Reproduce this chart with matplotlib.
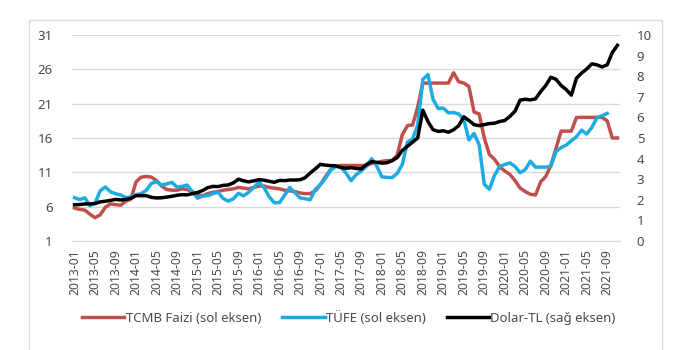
import numpy as np
import matplotlib.pyplot as plt
from matplotlib.patches import Rectangle

plt.rcParams['font.family'] = ['Noto Sans', 'DejaVu Sans']

# aylar: 2013-01 .. 2021-11
months = [f"{y}-{m:02d}" for y in range(2013, 2022) for m in range(1, 13)][:107]

tcmb_faizi = [
    5.8, 5.6, 5.5, 4.9, 4.4, 4.8, 5.9, 6.4, 6.3, 6.2, 6.8, 7.1,        # 2013
    9.6, 10.3, 10.4, 10.3, 9.8, 9.0, 8.5, 8.4, 8.4, 8.6, 8.5, 8.2,     # 2014
    7.7, 7.6, 7.9, 8.1, 8.2, 8.4, 8.5, 8.6, 8.8, 8.7, 8.6, 8.8,        # 2015
    9.0, 9.0, 8.8, 8.7, 8.6, 8.4, 8.3, 8.2, 8.0, 7.9, 7.9, 8.3,        # 2016
    9.2, 10.4, 11.4, 11.9, 12.0, 12.0, 12.0, 12.0, 12.0, 12.0, 12.3, 12.4,  # 2017
    12.6, 12.7, 12.7, 13.5, 16.5, 17.8, 17.9, 20.5, 24.0, 24.0, 24.0, 24.0,  # 2018
    24.0, 24.0, 25.5, 24.2, 24.0, 23.5, 19.8, 19.5, 16.0, 13.6, 12.9, 11.8,  # 2019
    11.2, 10.7, 9.8, 8.7, 8.2, 7.8, 7.7, 9.6, 10.4, 12.0, 14.5, 17.0,  # 2020
    17.0, 17.0, 19.0, 19.0, 19.0, 19.0, 19.0, 19.0, 18.5, 16.0, 16.0,  # 2021
]

tufe = [
    7.31, 7.03, 7.29, 6.13, 6.51, 8.30, 8.88, 8.17, 7.88, 7.71, 7.32, 7.40,
    7.75, 7.89, 8.39, 9.38, 9.66, 9.16, 9.32, 9.54, 8.86, 8.96, 9.15, 8.17,
    7.24, 7.55, 7.61, 7.91, 8.09, 7.20, 6.81, 7.14, 7.95, 7.58, 8.10, 8.81,
    9.58, 8.78, 7.46, 6.57, 6.58, 7.64, 8.79, 8.05, 7.28, 7.16, 7.00, 8.53,
    9.22, 10.13, 11.29, 11.87, 11.72, 10.90, 9.79, 10.68, 11.20, 11.90, 12.98, 11.92,
    10.35, 10.26, 10.23, 10.85, 12.15, 15.39, 15.85, 17.90, 24.52, 25.24, 21.62, 20.30,
    20.35, 19.67, 19.71, 19.50, 18.71, 15.72, 16.65, 15.01, 9.26, 8.55, 10.56, 11.84,
    12.15, 12.37, 11.86, 10.94, 11.39, 12.62, 11.76, 11.77, 11.75, 11.89, 14.03, 14.60,
    14.97, 15.61, 16.19, 17.14, 16.59, 17.53, 18.95, 19.25, 19.58,
]

dolar_tl = [
    1.76, 1.77, 1.80, 1.80, 1.82, 1.90, 1.93, 1.97, 2.02, 1.99, 2.02, 2.07,
    2.20, 2.20, 2.20, 2.12, 2.09, 2.10, 2.13, 2.17, 2.22, 2.25, 2.24, 2.30,
    2.35, 2.45, 2.59, 2.65, 2.64, 2.70, 2.72, 2.82, 3.00, 2.92, 2.87, 2.92,
    2.98, 2.95, 2.90, 2.85, 2.94, 2.93, 2.96, 2.96, 2.97, 3.07, 3.30, 3.50,
    3.72, 3.68, 3.66, 3.65, 3.57, 3.53, 3.56, 3.52, 3.50, 3.71, 3.85, 3.82,
    3.78, 3.80, 3.90, 4.05, 4.40, 4.60, 4.80, 5.00, 6.35, 5.80, 5.40, 5.32,
    5.35, 5.28, 5.40, 5.60, 6.03, 5.85, 5.65, 5.60, 5.65, 5.70, 5.72, 5.80,
    5.85, 6.05, 6.30, 6.84, 6.88, 6.85, 6.90, 7.25, 7.55, 7.95, 7.85, 7.55,
    7.35, 7.08, 7.90, 8.15, 8.35, 8.60, 8.55, 8.45, 8.55, 9.15, 9.50,
]

gray = '#4a4a4a'
fig = plt.figure(figsize=(6.9, 3.5), dpi=100)
fig.patches.append(Rectangle((29/690, -0.1), (662-29)/690, 1.1 - 20/350,
                             transform=fig.transFigure, fill=False,
                             edgecolor='#d9d9d9', linewidth=1.0))

ax = fig.add_axes([72/690, 1 - 241/350, (620-72)/690, (241-35)/350])
ax2 = ax.twinx()

ax.plot(np.arange(len(tcmb_faizi)), tcmb_faizi, color='#c0504d', lw=2.5,
        label='TCMB Faizi (sol eksen)')
ax.plot(np.arange(len(tufe)), tufe, color='#1cabe2', lw=2.5,
        label='TÜFE (sol eksen)')
ax2.plot(np.arange(len(dolar_tl)), dolar_tl, color='black', lw=2.5,
         label='Dolar-TL (sağ eksen)')

ax.set_xlim(-0.5, len(months) - 0.5)
ax.set_ylim(1, 31)
ax.set_yticks(range(1, 32, 5))
ax2.set_ylim(0, 10)
ax2.set_yticks(range(0, 11))
ax.grid(axis='y', color='#d9d9d9', lw=1)
ax.set_axisbelow(True)

ax.set_xticks(range(0, len(months), 4))
ax.set_xticklabels(months[::4], rotation=90, fontsize=8.8, color=gray)
ax.tick_params(axis='x', length=0, pad=6)
ax.tick_params(axis='y', length=0, labelsize=9.5, labelcolor=gray, pad=14)
ax2.tick_params(axis='y', length=0, labelsize=9.5, labelcolor=gray, pad=12)

for a in (ax, ax2):
    for s in a.spines.values():
        s.set_visible(False)
ax.spines['bottom'].set_visible(True)
ax.spines['bottom'].set_color('#d9d9d9')

h1, l1 = ax.get_legend_handles_labels()
h2, l2 = ax2.get_legend_handles_labels()
leg = fig.legend(h1 + h2, l1 + l2, loc='center', ncol=3, frameon=False,
                 bbox_to_anchor=(349/690, 1 - 318/350), fontsize=9.5,
                 handlelength=3.2, handletextpad=0.1, columnspacing=1.6)
for t in leg.get_texts():
    t.set_color(gray)

fig.savefig('out.png', dpi=100)
